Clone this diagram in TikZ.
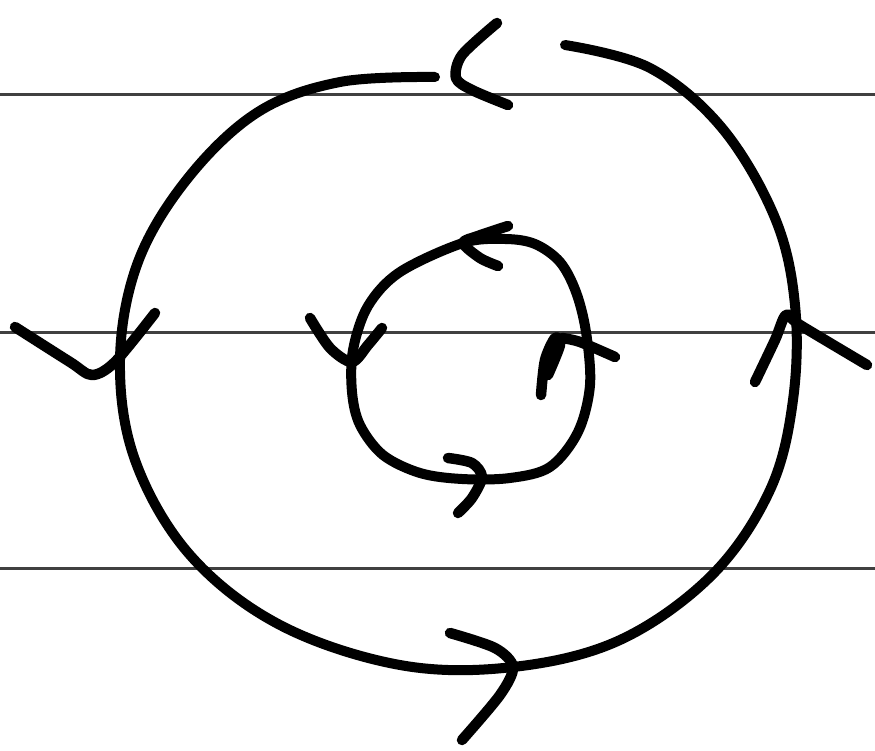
\documentclass[tikz,border=0pt]{standalone}
\usetikzlibrary{positioning}

\begin{document}
\begin{tikzpicture}[
    x=1pt, y=-1pt,
    pen/.style={
        draw=black, line width=10pt,
        line cap=round, line join=round
    },
    tip/.style={
        draw=black, line width=10.5pt,
        line cap=round, line join=round
    },
    rule/.style={
        draw=black!75, line width=3pt
    }
]
    \useasboundingbox (0,0) rectangle (875,751);

    % ruled lines
    \foreach \y in {95,332,568} {
        \draw[rule] (0,\y) -- (875,\y);
    }

    % outer loop
    \draw[pen] plot[smooth, tension=0.6] coordinates {
        (565,45) (650,68) (722,128) (775,218) (795,305) (793,400)
        (770,490) (712,575) (620,640) (513,667) (400,665) (280,625)
        (190,555) (135,460) (120,360) (138,262) (188,178) (258,112)
        (340,82) (435,77)};
    \draw[tip] plot[smooth, tension=0.5] coordinates {(497,23) (462,55) (456,78) (472,90) (508,105)};
    \draw[tip] plot[smooth, tension=0.5] coordinates {(15,327) (70,362) (92,375) (115,362) (155,313)};
    \draw[tip] plot[smooth, tension=0.5] coordinates {(755,382) (775,340) (786,315) (800,325) (867,365)};
    \draw[tip] plot[smooth, tension=0.5] coordinates {(450,633) (495,648) (513,667) (500,695) (462,740)};

    % inner loop
    \draw[pen] plot[smooth cycle, tension=0.55] coordinates {
        (463,243) (400,272) (368,306) (353,350) (352,392) (360,425)
        (383,455) (420,473) (462,479) (510,478) (550,467) (578,432)
        (590,385) (586,332) (576,292) (560,262) (535,244) (505,239)};
    \draw[tip] plot[smooth, tension=0.5] coordinates {(508,226) (478,236) (463,243) (480,258) (498,266)};
    \draw[tip] plot[smooth, tension=0.5] coordinates {(310,318) (330,348) (352,362) (368,345) (382,328)};
    \draw[tip] plot[smooth, tension=0.5] coordinates {(448,458) (472,463) (482,477) (472,498) (458,513)};
    \draw[tip] plot[smooth, tension=0.5] coordinates {(541,395) (545,360) (555,338) (560,345) (548,375)};
    \draw[tip] plot[smooth, tension=0.5] coordinates {(562,338) (580,342) (615,357)};
\end{tikzpicture}
\end{document}
